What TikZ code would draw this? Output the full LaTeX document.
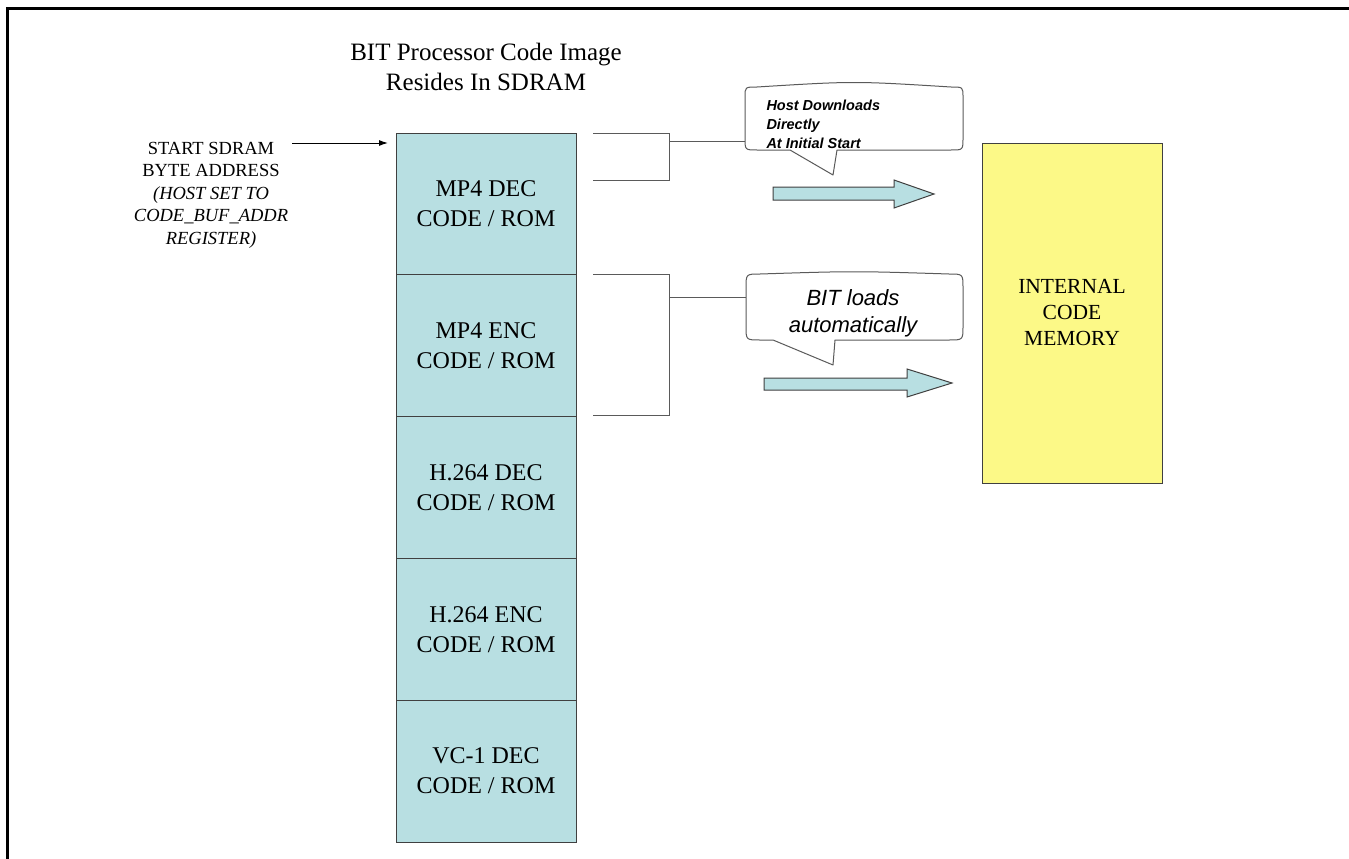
\documentclass[tikz,border=0pt]{standalone}
\usepackage{fontspec}
\setmainfont{Liberation Serif}
\newfontfamily\arialf{Liberation Sans}
\usetikzlibrary{arrows.meta}
\definecolor{romcyan}{RGB}{184,223,226}
\definecolor{memyellow}{RGB}{252,249,135}
\definecolor{edgegray}{RGB}{64,64,64}
\definecolor{brgray}{RGB}{90,90,90}
\begin{document}
\begin{tikzpicture}[x=1pt,y=-1pt,line width=1pt,
  romrow/.style={draw=edgegray,fill=romcyan,minimum width=180,minimum height=141.8,inner sep=0pt,align=center,font=\fontsize{24}{30}\selectfont},
  bracketline/.style={draw=brgray,line width=1pt},
  calloutshape/.style={draw=brgray,fill=white,line width=1pt,line join=round},
  blockarrow/.style={draw=edgegray,fill=romcyan,line width=1pt,line join=miter},
  plaintext/.style={inner sep=0pt,align=center}]
\useasboundingbox (0,0) rectangle (1349,859);
\fill[white] (0,0) rectangle (1349,859);
% frame
\draw[line width=3pt] (7.5,859) -- (7.5,9) -- (1349,9);

% title
\node[plaintext,font=\fontsize{25}{30}\selectfont] (title) at (486,67) {BIT Processor Code Image\\Resides In SDRAM};

% memory column
\node[romrow] (r1) at (486,203.9) {MP4 DEC\\CODE / ROM};
\node[romrow] (r2) at (486,345.7) {MP4 ENC\\CODE / ROM};
\node[romrow] (r3) at (486,487.5) {H.264 DEC\\CODE / ROM};
\node[romrow] (r4) at (486,629.3) {H.264 ENC\\CODE / ROM};
\node[romrow] (r5) at (486,771.1) {VC-1 DEC\\CODE / ROM};

% start address label
\node[plaintext,font=\fontsize{18.5}{22.5}\selectfont] (startlbl) at (211,195)
  {START SDRAM\\BYTE ADDRESS\\\textit{(HOST SET TO}\\\textit{CODE\_BUF\_ADDR}\\\textit{REGISTER)}};
\coordinate (arrs) at (292,143);
\coordinate (arre) at (388,143);
\draw[-{Latex[length=9pt,width=6pt]},line width=1pt] (arrs) -- (arre);

% internal memory
\node[draw=edgegray,fill=memyellow,minimum width=180,minimum height=340,inner sep=0pt,align=center,
  font=\fontsize{21.5}{26}\selectfont] (mem) at (1072,313) {INTERNAL\\CODE\\MEMORY};

% callout 1
\draw[calloutshape] (837,150) -- (951,150) .. controls (963,150) .. (963,138) -- (963,97)
  .. controls (963,87) .. (951,87) .. controls (854,81) .. (757,87)
  .. controls (745,87) .. (745,97) -- (745,138) .. controls (745,150) .. (757,150)
  -- (790,150) -- (833,175) -- cycle;
\node[inner sep=0pt,anchor=west,align=left,font=\arialf\bfseries\itshape\fontsize{14.5}{19}\selectfont] (c1) at (766,124)
  {Host Downloads\\Directly\\At Initial Start};
\coordinate (c1w) at (745,141);

% callout 2
\draw[calloutshape] (835,340) -- (949,340) .. controls (963,340) .. (963,326) -- (963,288)
  .. controls (963,274) .. (949,274) .. controls (854,271) .. (760,274)
  .. controls (746,274) .. (746,288) -- (746,326) .. controls (746,340) .. (760,340)
  -- (773,340) -- (833,365) -- cycle;
\node[plaintext,font=\arialf\itshape\fontsize{22}{27}\selectfont] (c2) at (853,313) {BIT loads\\automatically};
\coordinate (c2w) at (746,297);

% brackets
\coordinate (b1t) at (593,133);
\coordinate (b1b) at (593,180);
\draw[bracketline] (b1t) -- (669,133) -- (669,180) -- (b1b);
\draw[bracketline] (669,141) -- (c1w);
\coordinate (b2t) at (593,274);
\coordinate (b2b) at (593,415);
\draw[bracketline] (b2t) -- (669,274) -- (669,415) -- (b2b);
\draw[bracketline] (669,297) -- (c2w);

% block arrows
\draw[blockarrow] (773,187) -- (894,187) -- (894,180) -- (934,194) -- (894,208) -- (894,200) -- (773,200) -- cycle;
\draw[blockarrow] (764,378) -- (907,378) -- (907,369) -- (952,383) -- (907,397) -- (907,390) -- (764,390) -- cycle;
\end{tikzpicture}
\end{document}
